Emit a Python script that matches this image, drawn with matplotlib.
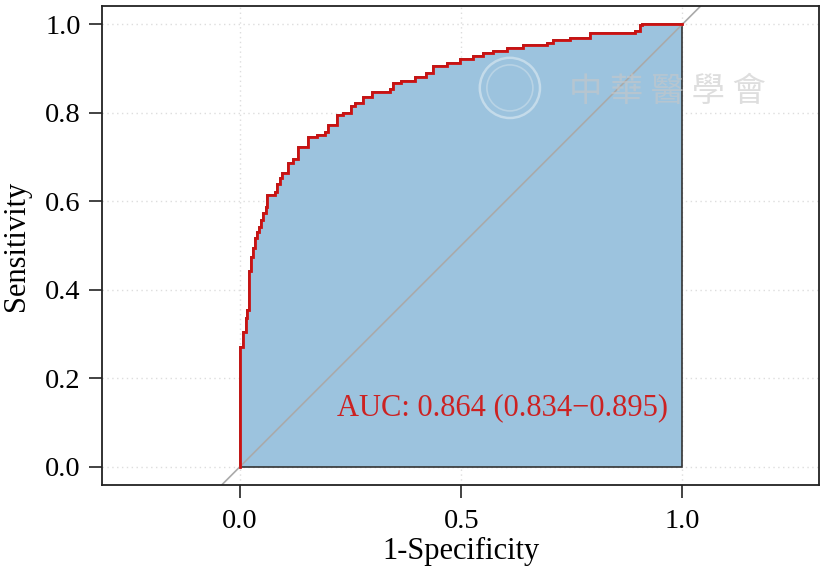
import numpy as np
import matplotlib.pyplot as plt
from matplotlib.patches import Circle

plt.rcParams['font.family'] = ['Liberation Serif', 'Noto Sans CJK TC', 'DejaVu Sans']

# ROC step points (1-specificity, sensitivity)
fpr = [0.000, 0.008, 0.013, 0.017, 0.020, 0.026, 0.030, 0.034, 0.038, 0.043,
       0.047, 0.053, 0.058, 0.062, 0.079, 0.083, 0.090, 0.096, 0.109, 0.119,
       0.132, 0.154, 0.173, 0.192, 0.199, 0.219, 0.233, 0.252, 0.260, 0.279,
       0.298, 0.339, 0.346, 0.365, 0.395, 0.421, 0.436, 0.467, 0.497, 0.527,
       0.550, 0.572, 0.603, 0.640, 0.693, 0.708, 0.746, 0.791, 0.893, 0.904,
       0.908, 1.000]
tpr = [0.271, 0.305, 0.335, 0.354, 0.443, 0.475, 0.494, 0.516, 0.531, 0.541,
       0.557, 0.574, 0.588, 0.614, 0.621, 0.640, 0.652, 0.663, 0.686, 0.695,
       0.723, 0.744, 0.750, 0.757, 0.772, 0.795, 0.799, 0.814, 0.821, 0.835,
       0.847, 0.853, 0.868, 0.872, 0.880, 0.889, 0.905, 0.913, 0.921, 0.928,
       0.934, 0.940, 0.947, 0.953, 0.958, 0.964, 0.969, 0.979, 0.985, 0.998,
       1.000, 1.000]

xticks = [0.0, 0.5, 1.0]
yticks = [0.0, 0.2, 0.4, 0.6, 0.8, 1.0]
auc_label = 'AUC: 0.864 (0.834\u22120.895)'

# build the staircase from the step points
sx, sy = [0.0], [0.0]
prev = 0.0
for x, y in zip(fpr, tpr):
    sx += [x, x]
    sy += [prev, y]
    prev = y

fig = plt.figure(figsize=(8.27, 5.74), dpi=100)
ax = fig.add_axes([0.1239, 0.1559, 0.8664, 0.8328])

# dotted grid
for t in xticks:
    ax.axvline(t, color='#dddddd', lw=1, ls=(0, (1, 2.5)), zorder=0)
for t in yticks:
    ax.axhline(t, color='#dddddd', lw=1, ls=(0, (1, 2.5)), zorder=0)

# area under curve
ax.fill(sx + [1.0], sy + [0.0], facecolor='#9cc3de', edgecolor='#333333',
        lw=1.2, zorder=1)

# chance line
ax.axline((0, 0), (1, 1), color='#aaaaaa', lw=1.2, zorder=2)

# ROC curve
ax.plot(sx, sy, color='#cc1111', lw=2, zorder=3, solid_joinstyle='miter')

ax.text(0.593, 0.133, auc_label, color='#cc2222', fontsize=22,
        ha='center', va='center', zorder=4)

# faint watermark (logo outline + society name)
ax.add_patch(Circle((0.61, 0.856), 0.068, facecolor='none',
                    edgecolor='#c4dbea', lw=1.8, zorder=4))
ax.add_patch(Circle((0.61, 0.856), 0.052, facecolor='none',
                    edgecolor='#b8d3e5', lw=1.2, zorder=4))
ax.text(0.965, 0.847, '中 華 醫 學 會', color='#c8c8c8', alpha=0.6,
        fontsize=24, ha='center', va='center',
        family=['Noto Sans CJK TC'], zorder=4)

ax.set_xlim(-0.3107, 1.3085)
ax.set_ylim(-0.0402, 1.04)
ax.set_xticks(xticks)
ax.set_yticks(yticks)
ax.set_xticklabels(['%.1f' % t for t in xticks])
ax.set_yticklabels(['%.1f' % t for t in yticks])
ax.tick_params(direction='out', length=9.5, width=1.2, color='#222222',
               labelsize=20.5, pad=6)
ax.tick_params(axis='x', pad=8)
for s in ax.spines.values():
    s.set_color('#222222')
    s.set_linewidth(1.3)

ax.set_xlabel('1-Specificity', fontsize=22, labelpad=2)
ax.set_ylabel('Sensitivity', fontsize=22, labelpad=10)

fig.savefig('out.png', dpi=100)
